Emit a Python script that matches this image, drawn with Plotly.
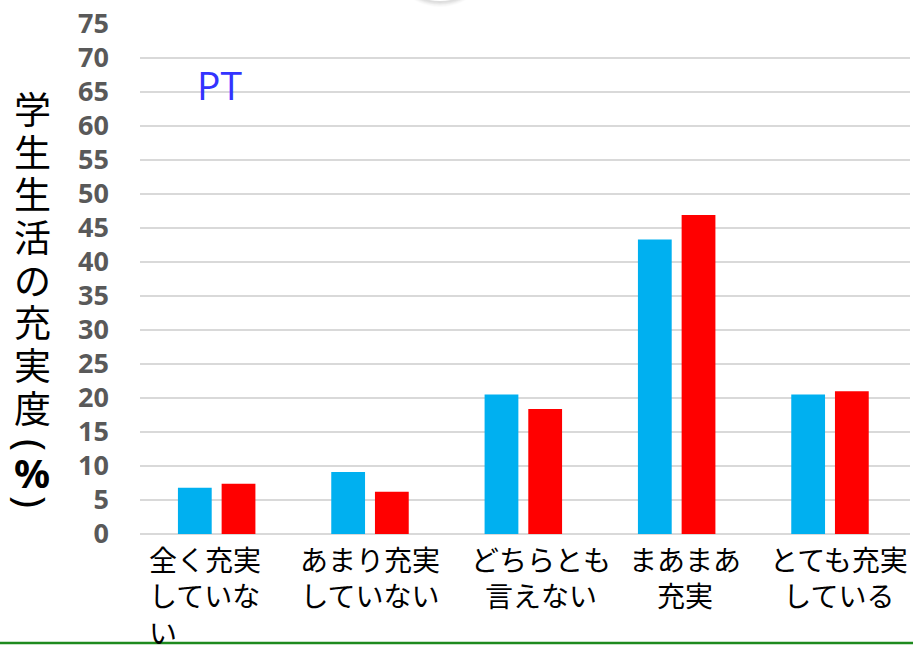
import plotly.graph_objects as go

# Survey categories (wrapped label lines) and percentages for the two groups
categories = ["全く充実していない", "あまり充実していない", "どちらとも言えない", "まあまあ充実", "とても充実している"]
category_lines = [
    ["全く充実", "していな", "い"],
    ["あまり充実", "していない"],
    ["どちらとも", "言えない"],
    ["まあまあ", "充実"],
    ["とても充実", "している"],
]
series_a = [6.8, 9.1, 20.5, 43.3, 20.5]
series_b = [7.4, 6.2, 18.4, 46.9, 21.0]
y_ticks = [0, 5, 10, 15, 20, 25, 30, 35, 40, 45, 50, 55, 60, 65, 70, 75]
y_title_chars = ["学", "生", "生", "活", "の", "充", "実", "度"]
y_title_unit = ["(", "%", ")"]
panel_label = "PT"

W, H = 913, 649
ML, MR, MT, MB = 140, 3, 24, 115
PW, PH = W - ML - MR, H - MT - MB


def px_x(px):
    return (px - ML) / PW


def px_y(py):
    return (H - MB - py) / PH


fig = go.Figure()
fig.add_trace(go.Bar(x=categories, y=series_a, marker=dict(color="#00B0F0", line=dict(width=0)),
                     showlegend=False))
fig.add_trace(go.Bar(x=categories, y=series_b, marker=dict(color="#FF0000", line=dict(width=0)),
                     showlegend=False))

annotations = []

# category labels, drawn as wrapped text blocks below each group
label_shift = [-70, 0, 18, 8, 9]
for i, (cat, lines) in enumerate(zip(categories, category_lines)):
    left = i == 0
    annotations.append(dict(
        x=cat, xref="x", y=px_y(537), yref="paper",
        text="<br>".join(lines), showarrow=False,
        xanchor="left" if left else "center", yanchor="top",
        align="left" if left else "center",
        xshift=label_shift[i],
        font=dict(family="Noto Sans CJK JP", size=28, color="#000000"),
    ))

# white strip under the bottom rule: the page is cut off there
annotations.append(dict(
    x=px_x(W / 2), xref="paper", y=px_y(647.5), yref="paper",
    text=" ", showarrow=False, xanchor="center", yanchor="middle",
    width=W + 4, height=6, bgcolor="#FFFFFF", borderpad=0, borderwidth=0,
    font=dict(size=4),
))

# vertical axis title, one character per row
for i, ch in enumerate(y_title_chars):
    annotations.append(dict(
        x=px_x(32), xref="paper", y=px_y(108 + i * 42.7), yref="paper",
        text=ch, showarrow=False, xanchor="center", yanchor="middle",
        font=dict(family="Noto Sans CJK JP", size=37, color="#000000"),
    ))
# unit in parentheses; the brackets are turned sideways for vertical writing
unit_pos = [445, 472, 502]
for ch, py in zip(y_title_unit, unit_pos):
    is_paren = ch != "%"
    annotations.append(dict(
        x=px_x(32), xref="paper", y=px_y(py), yref="paper",
        text=ch, showarrow=False, xanchor="center", yanchor="middle",
        textangle=90 if is_paren else 0,
        font=dict(family="Noto Sans", size=40, color="#000000",
                  weight="normal" if is_paren else "bold"),
    ))

# panel label inside the plot
annotations.append(dict(
    x=px_x(219), xref="paper", y=px_y(84), yref="paper",
    text=panel_label, showarrow=False, xanchor="center", yanchor="middle",
    font=dict(family="Open Sans", size=39, color="#3333FF"),
))

shapes = []
# soft shadow of a rounded object at the top edge
for bottom, alpha in [(7, 0.03), (6, 0.04), (5, 0.05), (4, 0.06), (3, 0.07)]:
    shapes.append(dict(type="circle", xref="paper", yref="paper",
                       x0=px_x(385), x1=px_x(495), y0=px_y(bottom), y1=px_y(-110),
                       fillcolor=f"rgba(120,120,120,{alpha})", line=dict(width=0), layer="above"))
shapes.append(dict(type="circle", xref="paper", yref="paper",
                   x0=px_x(380), x1=px_x(500), y0=px_y(1), y1=px_y(-120),
                   fillcolor="#FFFFFF", line=dict(width=0), layer="above"))
# green rule along the bottom
shapes.append(dict(type="line", xref="paper", yref="paper",
                   x0=px_x(0), x1=px_x(W), y0=px_y(643), y1=px_y(643),
                   line=dict(color="#1E8A1E", width=2.5), layer="above"))

fig.update_layout(
    width=W, height=H,
    margin=dict(l=ML, r=MR, t=MT, b=MB),
    paper_bgcolor="#FFFFFF", plot_bgcolor="#FFFFFF",
    barmode="group", bargap=0.43, bargroupgap=0.227,
    annotations=annotations, shapes=shapes,
    xaxis=dict(showticklabels=False, showgrid=False, zeroline=False, showline=False, ticks=""),
    yaxis=dict(range=[0, 75], tickvals=y_ticks, ticktext=[str(v) for v in y_ticks],
               showgrid=True, gridcolor="#D9D9D9", gridwidth=1.5,
               zeroline=True, zerolinecolor="#D9D9D9", zerolinewidth=1.5,
               showline=False, ticks="", ticklabelstandoff=30,
               tickfont=dict(family="Open Sans", size=27, color="#595959", weight="bold")),
)

fig.write_html("out.html")
